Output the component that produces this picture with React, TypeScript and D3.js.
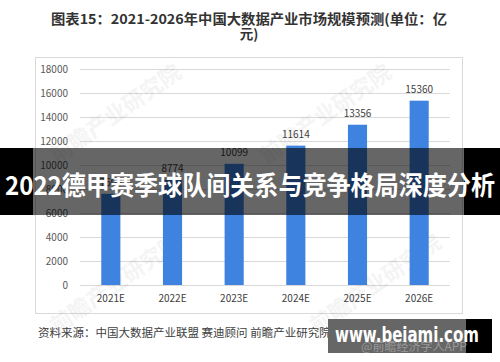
import React from "react";
import * as d3 from "d3";

const years = ["2021E", "2022E", "2023E", "2024E", "2025E", "2026E"];
const sizes = [7600, 8774, 10099, 11614, 13356, 15360];
const yTicks = [0, 2000, 4000, 6000, 8000, 10000, 12000, 14000, 16000, 18000];

const titleLine1 = "图表15：2021-2026年中国大数据产业市场规模预测(单位：亿";
const titleLine2 = "元)";
const sourceText = "资料来源：中国大数据产业联盟 赛迪顾问 前瞻产业研究院整理";
const bannerText = "2022德甲赛季球队间关系与竞争格局深度分析";

const W = 500, H = 362;
const font = "'Noto Sans CJK SC', 'Noto Sans', sans-serif";

export default function App() {
  // plot area
  const left = 80, right = 450, top = 69, bottom = 285;

  const x = d3.scaleBand().domain(years).range([left, right]).paddingInner(0.69).paddingOuter(0.345);
  const y = d3.scaleLinear().domain([0, 18000]).range([bottom, top]);

  const marks = [
    { x: 120, y: 120 }, { x: 330, y: 120 }, { x: 120, y: 290 }, { x: 380, y: 290 },
  ];

  return (
    <svg width={W} height={H} style={{ position: "absolute", left: 0, top: 0, background: "#fff" }} fontFamily={font}>
      <text x={249} y={24} textAnchor="middle" fontSize={13.5} fontWeight="bold" fill="#333"
        textLength={396} lengthAdjust="spacingAndGlyphs">{titleLine1}</text>
      <text x={249} y={39} textAnchor="middle" fontSize={13.5} fontWeight="bold" fill="#333">{titleLine2}</text>

      {/* chart frame */}
      <rect x={35.5} y={57.5} width={427} height={256} fill="#fff" stroke="#d9d9d9" />

      {/* grid + y labels */}
      {yTicks.map(t => (
        <g key={t}>
          <line x1={left} x2={right} y1={Math.round(y(t)) + 0.5} y2={Math.round(y(t)) + 0.5} stroke="#d9d9d9" />
          <text x={68} y={y(t) + 3.5} textAnchor="end" fontSize={10} fill="#595959">{t}</text>
        </g>
      ))}

      {/* faint watermark */}
      {marks.map((m, i) => (
        <text key={i} x={m.x} y={m.y} transform={`rotate(-35 ${m.x} ${m.y})`} textAnchor="middle"
          fontSize={22} fontWeight="bold" fill="#000" opacity={0.04}>前瞻产业研究院</text>
      ))}

      {/* bars */}
      {sizes.map((v, i) => (
        <g key={years[i]}>
          <rect x={x(years[i])} y={y(v)} width={x.bandwidth()} height={bottom - y(v)} fill="#3f83e0" />
          <text x={x(years[i])! + x.bandwidth() / 2} y={y(v) - 8} textAnchor="middle" fontSize={10} fill="#404040">{v}</text>
          <text x={x(years[i])! + x.bandwidth() / 2} y={302} textAnchor="middle" fontSize={10} fill="#404040">{years[i]}</text>
        </g>
      ))}

      {/* banner */}
      <rect x={0} y={148} width={33} height={67} fill="#000" />
      <rect x={464} y={148} width={36} height={67} fill="#000" />
      <rect x={33} y={148} width={431} height={67} fill="#000" opacity={0.6} />
      <text x={250} y={195} textAnchor="middle" fontSize={26} fontWeight="bold" fill="#fff"
        textLength={490} lengthAdjust="spacingAndGlyphs">{bannerText}</text>

      {/* source */}
      <text x={38} y={337} fontSize={11.5} fill="#404040">{sourceText}</text>

      {/* site badge */}
      <rect x={328} y={319} width={164} height={34} fill="#666" />
      <rect x={466} y={319} width={26} height={34} fill="#000" />
      <text x={414} y={351} textAnchor="middle" fontSize={12} fill="#999">@前瞻经济学人APP</text>
      <text x={407} y={342} textAnchor="middle" fontSize={21} fontWeight="bold" fill="#fff"
        textLength={144} lengthAdjust="spacingAndGlyphs" fontFamily="'DejaVu Sans', sans-serif">www.beiami.com</text>
    </svg>
  );
}
